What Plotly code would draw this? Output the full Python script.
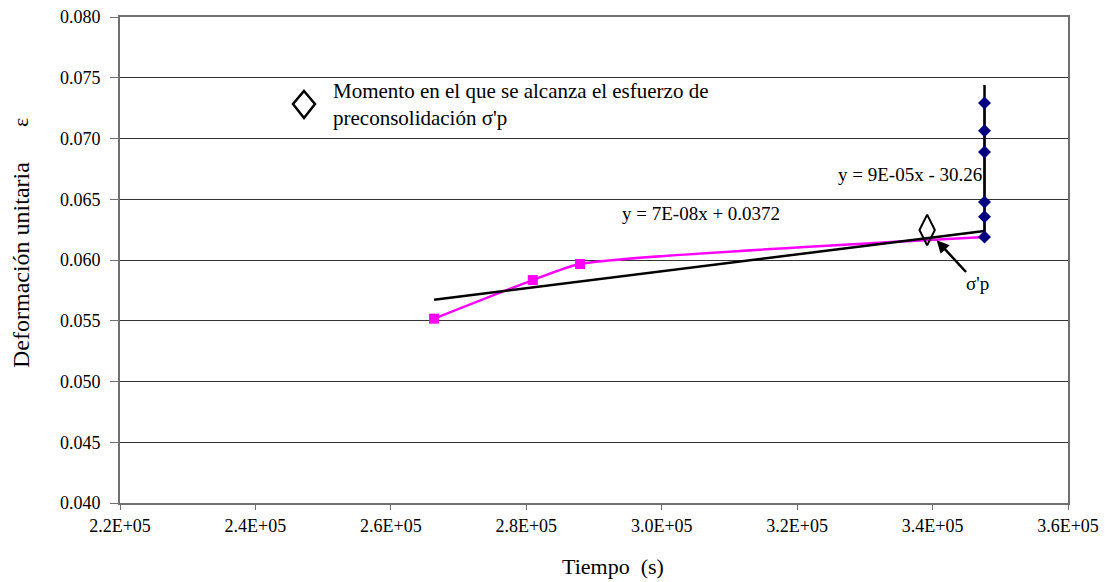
import numpy as np
import plotly.graph_objects as go

# Strain vs. time readings (seconds, unit strain)
pink_t = [266380, 280960, 287950, 347670]
pink_e = [0.05517, 0.05835, 0.05967, 0.06190]

blue_t = [347670, 347670, 347670, 347670, 347670, 347670]
blue_e = [0.06190, 0.06356, 0.06477, 0.06889, 0.07064, 0.07292]

# Vertical trend of the final loading stage (ends of the drawn trendline)
blue_fit_t = [347670, 347670]
blue_fit_e = [0.06190, 0.07440]

# Point where the preconsolidation stress is reached
sigma_t = [339200]
sigma_e = [0.06247]

y_ticks = [0.040, 0.045, 0.050, 0.055, 0.060, 0.065, 0.070, 0.075, 0.080]
x_ticks = [220000, 240000, 260000, 280000, 300000, 320000, 340000, 360000]

eq_pink = "y = 7E-08x + 0.0372"
eq_blue = "y = 9E-05x - 30.26"
legend_text = "Momento en el que se alcanza el esfuerzo de<br>preconsolidación σ'p"

serif = "Liberation Serif"

# Plot area in pixels (used to place paper-referenced text)
L, R, T, B = 120, 1068, 17, 503
W, H = R - L, B - T


def px(x):
    return (x - L) / W


def py(y):
    return (B - y) / H


# Linear fit of the magenta series
slope, intercept = np.polyfit(pink_t, pink_e, 1)
fit_t = [min(pink_t), max(pink_t)]
fit_e = [slope * t + intercept for t in fit_t]

fig = go.Figure()

fig.add_trace(go.Scatter(
    x=pink_t, y=pink_e, mode="lines",
    line=dict(color="#FF00FF", width=2.5, shape="spline", smoothing=0.55),
    showlegend=False, hoverinfo="skip"))

fig.add_trace(go.Scatter(
    x=fit_t, y=fit_e, mode="lines",
    line=dict(color="black", width=2.5),
    showlegend=False, hoverinfo="skip"))

fig.add_trace(go.Scatter(
    x=pink_t[:-1], y=pink_e[:-1], mode="markers",
    marker=dict(symbol="square", size=10, color="#FF00FF"),
    showlegend=False))

fig.add_trace(go.Scatter(
    x=blue_t, y=blue_e, mode="lines",
    line=dict(color="#000080", width=2),
    showlegend=False, hoverinfo="skip"))

fig.add_trace(go.Scatter(
    x=blue_fit_t, y=blue_fit_e, mode="lines",
    line=dict(color="black", width=2.5),
    showlegend=False, hoverinfo="skip"))

fig.add_trace(go.Scatter(
    x=blue_t, y=blue_e, mode="markers",
    marker=dict(symbol="diamond", size=10, color="#000080"),
    showlegend=False))

fig.add_trace(go.Scatter(
    x=sigma_t, y=sigma_e, mode="markers",
    marker=dict(symbol="diamond-tall-open", size=22, color="black",
                line=dict(color="black", width=2)),
    showlegend=False))

axis_common = dict(
    showline=True, linecolor="#707070", linewidth=2, mirror=True,
    ticks="outside", tickcolor="#707070", tickwidth=1,
    tickfont=dict(family=serif, size=18, color="black"),
    zeroline=False, automargin=False,
)

fig.update_xaxes(
    range=[220000, 360000], tickvals=x_ticks,
    ticktext=[f"{v/1e5:.1f}E+05" for v in x_ticks],
    showgrid=False, ticklen=5, **axis_common)

fig.update_yaxes(
    range=[0.040, 0.080], tickvals=y_ticks,
    ticktext=[f"{v:.3f}" for v in y_ticks],
    showgrid=True, gridcolor="#333333", gridwidth=1,
    ticklen=8, ticklabelstandoff=6, **axis_common)

# Key: open diamond symbol with its description
fig.add_shape(
    type="path", xref="paper", yref="paper",
    path=(f"M {px(304)} {py(91)} L {px(315)} {py(104)} "
          f"L {px(304)} {py(118)} L {px(293)} {py(104)} Z"),
    line=dict(color="black", width=2.5), fillcolor="white")
fig.add_annotation(
    x=px(331), y=py(105), xref="paper", yref="paper",
    text=legend_text, showarrow=False, xanchor="left", yanchor="middle", align="left",
    font=dict(family=serif, size=21, color="black"))

fig.add_annotation(
    x=sigma_t[0], y=sigma_e[0], xref="x", yref="y",
    text="σ'p", showarrow=True, arrowhead=2, arrowsize=1, arrowwidth=2.5,
    arrowcolor="black", ax=50, ay=54, standoff=14,
    font=dict(family=serif, size=19, color="black"))

fig.add_annotation(
    x=px(620), y=py(213), xref="paper", yref="paper",
    text=eq_pink, showarrow=False, xanchor="left", yanchor="middle",
    font=dict(family=serif, size=19, color="black"))

fig.add_annotation(
    x=px(836), y=py(175), xref="paper", yref="paper",
    text=eq_blue, showarrow=False, xanchor="left", yanchor="middle",
    font=dict(family=serif, size=19, color="black"))

fig.add_annotation(
    x=px(613), y=py(566), xref="paper", yref="paper",
    text="Tiempo\u00a0\u00a0(s)", showarrow=False, xanchor="center", yanchor="middle",
    font=dict(family=serif, size=22, color="black"))

fig.add_annotation(
    x=px(21), y=py(265), xref="paper", yref="paper",
    text="Deformación unitaria", textangle=-90,
    showarrow=False, xanchor="center", yanchor="middle",
    font=dict(family=serif, size=24, color="black"))

fig.add_annotation(
    x=px(20), y=py(123), xref="paper", yref="paper",
    text="ε", textangle=-90,
    showarrow=False, xanchor="center", yanchor="middle",
    font=dict(family=serif, size=22, color="black"))

fig.update_layout(
    width=1105, height=582,
    margin=dict(l=L, r=1105 - R, t=T, b=582 - B),
    paper_bgcolor="white", plot_bgcolor="white",
    font=dict(family=serif, color="black"),
    showlegend=False,
)

fig.write_html("out.html")
